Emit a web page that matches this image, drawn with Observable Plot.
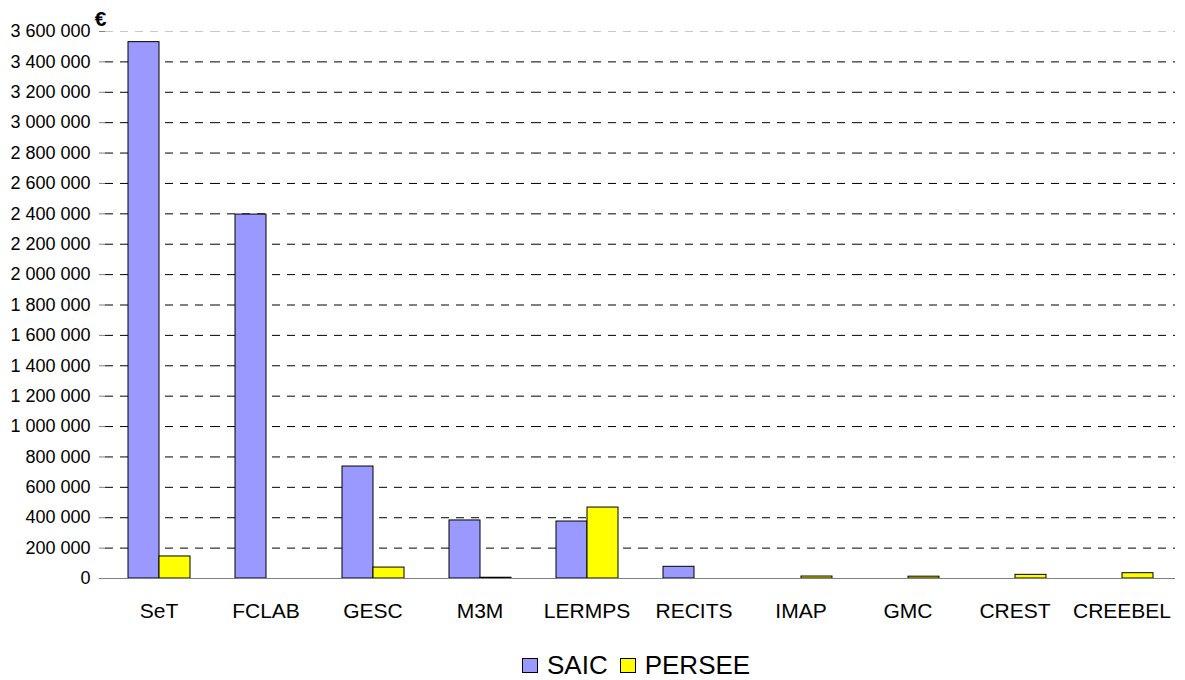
<!DOCTYPE html>
<html>
<head>
<meta charset="utf-8">
<script src="https://cdn.jsdelivr.net/npm/d3@7"></script>
<script src="https://cdn.jsdelivr.net/npm/@observablehq/plot@0.6"></script>
<style>
  html, body { margin: 0; padding: 0; background: #fff; overflow: hidden; }
  body { font-family: "Liberation Sans", Arial, sans-serif; width: 1185px; }
  #legend { height: 30px; margin-top: 20px; display: flex; align-items: center; padding-left: 522px; font-size: 26px; color: #000; }
  #legend .item { display: flex; align-items: center; margin-right: 12px; }
  #legend .sw { width: 16px; height: 15px; border: 1px solid #000; box-sizing: border-box; margin-right: 9px; }
</style>
</head>
<body>
<div id="chart"></div>
<div id="legend"></div>
<script>
const categories = ["SeT", "FCLAB", "GESC", "M3M", "LERMPS", "RECITS", "IMAP", "GMC", "CREST", "CREEBEL"];
const series = ["SAIC", "PERSEE"];
const saic = [3530000, 2395000, 737000, 382000, 375000, 77000, 0, 0, 0, 0];
const persee = [145000, 0, 72000, 5000, 467000, 0, 13000, 12000, 24000, 35000];
const yTicks = [0, 200000, 400000, 600000, 800000, 1000000, 1200000, 1400000, 1600000, 1800000, 2000000, 2200000, 2400000, 2600000, 2800000, 3000000, 3200000, 3400000, 3600000];
const colors = ["#9999FF", "#FFFF00"];
const unit = "€";

const rows = [];
categories.forEach((c, i) => {
  rows.push({cat: c, series: series[0], value: saic[i]});
  rows.push({cat: c, series: series[1], value: persee[i]});
});
const bars = rows.filter(d => d.value > 0);

const W = 1185, H = 630, ML = 105, MR = 10, MT = 31, MB = 52;
const step = (W - ML - MR) / categories.length;
const gray = "#808080";
const fr = d3.formatLocale({decimal: ",", thousands: " ", grouping: [3], currency: ["", " €"]}).format(",d");
const yMax = yTicks[yTicks.length - 1];

const plot = Plot.plot({
  width: W, height: H,
  marginLeft: ML, marginRight: MR, marginTop: MT, marginBottom: MB,
  style: {fontFamily: '"Liberation Sans", Arial, sans-serif', color: "#000", background: "#fff"},
  fx: {domain: categories, padding: 0, label: null},
  x: {domain: series, paddingInner: 0, paddingOuter: ((step / 31) - 2) / 2, axis: null},
  y: {domain: [0, yMax], label: null},
  color: {domain: series, range: colors},
  marks: [
    Plot.ruleY(yTicks.filter(v => v > 0 && v < yMax), {stroke: "#000", strokeDasharray: "8,7", strokeWidth: 1}),
    Plot.ruleY([yMax], {stroke: "#c8c8c8", strokeDasharray: "8,7", strokeWidth: 1}),
    Plot.barY(bars, {fx: "cat", x: "series", y: "value", fill: "series", stroke: "#000", strokeWidth: 1}),
    Plot.ruleY([0], {stroke: gray}),
    Plot.ruleX([categories[0]], {fx: d => d, dx: -step / 2, stroke: gray}),
    Plot.ruleX(categories, {fx: d => d, y1: 0, y2: 0, insetTop: 0, insetBottom: -7, dx: -step / 2, stroke: gray}),
    Plot.ruleX([categories[categories.length - 1]], {fx: d => d, y1: 0, y2: 0, insetTop: 0, insetBottom: -7, dx: step / 2, stroke: gray}),
    Plot.axisY({ticks: yTicks, tickFormat: fr, tickSize: 6, tickPadding: 9, fontSize: 18, stroke: gray, fill: "#000", label: null}),
    Plot.axisFx({anchor: "bottom", tickSize: 0, tickPadding: 25, fontSize: 21, fill: "#000", label: null}),
    Plot.text([categories[0]], {fx: d => d, text: () => unit, frameAnchor: "top-left", textAnchor: "middle", lineAnchor: "bottom", dx: -5, dy: -6, fontSize: 21, fontWeight: "bold", fill: "#000"})
  ]
});
document.getElementById("chart").appendChild(plot);

const legend = document.getElementById("legend");
series.forEach((s, i) => {
  const item = document.createElement("div");
  item.className = "item";
  const sw = document.createElement("div");
  sw.className = "sw";
  sw.style.background = colors[i];
  const t = document.createElement("span");
  t.textContent = s;
  item.appendChild(sw);
  item.appendChild(t);
  legend.appendChild(item);
});
</script>
</body>
</html>
